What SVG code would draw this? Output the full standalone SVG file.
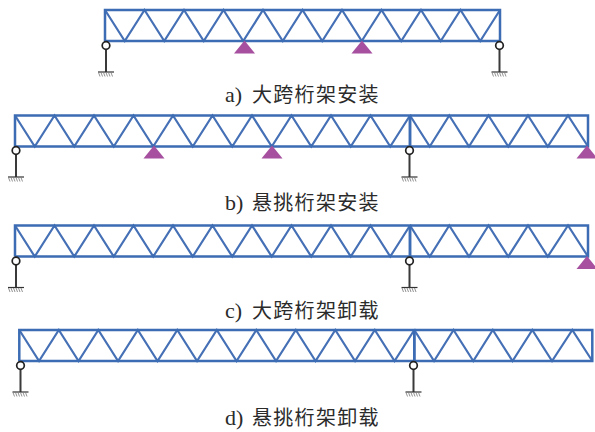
<svg xmlns="http://www.w3.org/2000/svg" width="595" height="432" viewBox="0 0 595 432">
<style>
.truss{fill:none;stroke:#3c6cb4;stroke-width:2.5}
.diag{fill:none;stroke:#4570b5;stroke-width:2.2}
.post{fill:none;stroke:#3a3a3a;stroke-width:2}
.base{fill:none;stroke:#333;stroke-width:1.2}
.hatch{fill:none;stroke:#777;stroke-width:.8}
.ball{fill:#fff;stroke:#222;stroke-width:1.7}
.roller{fill:#a6509f}
text{font-family:"Noto Sans CJK SC","Liberation Serif",serif;font-size:20px;fill:#2b2b2b;letter-spacing:1.3px}
.latin{font-family:"Liberation Serif",serif;font-size:22px;letter-spacing:0}
</style>
<defs>
<g id="t10">
<path class="diag" d="M0 0L19.750 31L39.500 0L59.250 31L79 0L98.750 31L118.500 0L138.250 31L158 0L177.750 31L197.500 0L217.250 31L237 0L256.750 31L276.500 0L296.250 31L316 0L335.750 31L355.500 0L375.250 31L395 0"/>
<path class="truss" d="M0 31V0H395V31M0 31H395"/>
</g>
<g id="t15">
<use href="#t10"/>
<path class="diag" d="M395 0L414.750 31L434.250 0L454 31L473.500 0L493.250 31L513 0L532.750 31L553 0L573 31"/>
<path class="truss" d="M395 0H573V31H395"/>
</g>
<g id="pin">
<path class="base" d="M-8 26.500H8"/>
<path class="hatch" d="M-7.500 27L-6 31M-5 27L-3.500 31M-2.500 27L-1 31M0 27L1.500 31M2.500 27L4 31M5 27L6.500 31"/>
<circle class="ball" r="3.800"/>
</g>
<path id="tri" class="roller" d="M0 -1L10.500 12H-10.500Z"/>
</defs>
<g id="connectors">
<path class="post" d="M106 49V72M499.500 49V72M16 154V177M409.500 154V177M16 264.500V287.500M409.500 264.500V287.500M20.500 369V392M413.500 369V392"/>
</g>
<g id="truss-a">
<use href="#t10" x="105" y="10"/>
<use href="#pin" x="106" y="45.500"/>
<use href="#pin" x="499.500" y="45.500"/>
<use href="#tri" x="244.500" y="41.500"/>
<use href="#tri" x="362" y="41.500"/>
</g>
<g id="label-a"><text class="latin" x="225" y="102">a)</text><text x="252" y="102">大跨桁架安装</text></g>
<g id="truss-b">
<use href="#t15" x="15" y="115.500"/>
<path class="truss" d="M410 115.500V146.500"/>
<use href="#pin" x="16" y="150.500"/>
<use href="#pin" x="409.500" y="150.500"/>
<use href="#tri" x="154" y="146.500"/>
<use href="#tri" x="272" y="146.500"/>
<use href="#tri" x="587" y="146.500"/>
</g>
<g id="label-b"><text class="latin" x="225" y="210">b)</text><text x="252" y="210">悬挑桁架安装</text></g>
<g id="truss-c">
<use href="#t15" x="15" y="225.500"/>
<path class="truss" d="M410 225.500V256.500"/>
<use href="#pin" x="16" y="261"/>
<use href="#pin" x="409.500" y="261"/>
<use href="#tri" x="587" y="257"/>
</g>
<g id="label-c"><text class="latin" x="225" y="318">c)</text><text x="252" y="318">大跨桁架卸载</text></g>
<g id="truss-d">
<use href="#t15" x="19.300" y="330"/>
<path class="truss" d="M414.300 330V361"/>
<use href="#pin" x="20.500" y="365.500"/>
<use href="#pin" x="413.500" y="365.500"/>
</g>
<g id="label-d"><text class="latin" x="225" y="425">d)</text><text x="252" y="425">悬挑桁架卸载</text></g>
</svg>
